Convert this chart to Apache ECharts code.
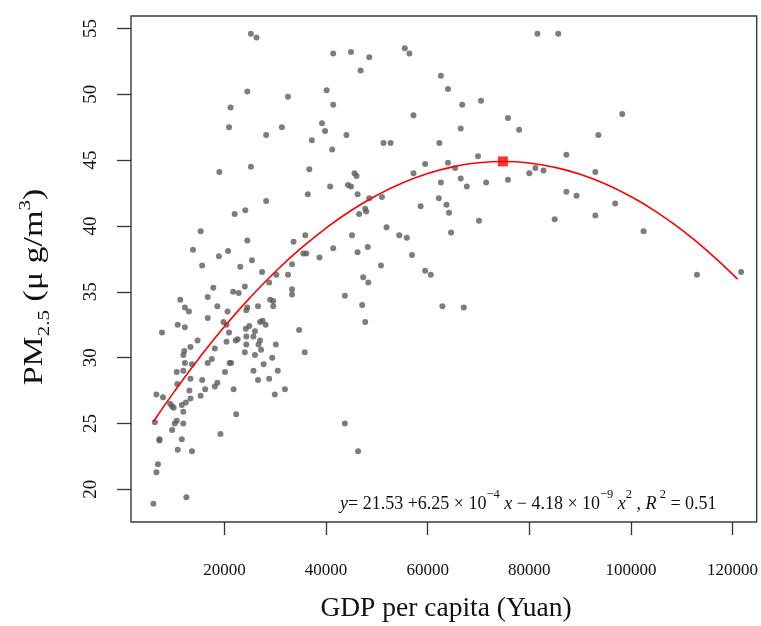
<!DOCTYPE html>
<html><head><meta charset="utf-8">
<script src="https://cdn.jsdelivr.net/npm/echarts@6/dist/echarts.min.js"></script>
<style>html,body{margin:0;padding:0;background:#fff}#c{width:761px;height:626px}</style>
</head><body><div id="c"></div>
<script>
const gdpPerCapita = [25200,26300,41400,24500,32500,40100,21200,41400,20900,28200,31300,39200,39800,37200,41200,19000,25200,36700,40800,36400,28200,22000,24100,15300,24500,13800,20700,18900,25400,33600,35900,41400,35500,36100,38700,15600,23100,27400,33300,30200,32500,28800,17800,21700,22800,24000,33300,33300,16700,11300,29000,29600,29600,12200,13000,18600,20600,24500,24300,26600,16700,10800,12200,19800,20400,7700,27000,27500,28100,24900,24200,34700,20900,24300,25700,26000,22600,22200,14700,13300,20400,27000,26700,24300,30100,18100,12100,11900,24000,27200,26000,29400,35800,17500,12200,16700,21000,21300,25700,27700,10600,11900,13600,20100,13300,15600,26600,28800,30500,10700,18100,18600,13100,16200,21800,31900,6600,7900,15300,29900,9300,9700,10000,11600,12400,13300,11900,22300,6300,10600,10200,11900,9700,19200,7200,7200,11600,10800,13600,6900,6600,12500,6000,44900,48500,46800,55500,56400,81600,62600,64000,57200,66800,70500,75800,78000,66500,44000,51300,52700,62300,69900,59500,64000,65400,57200,45600,46000,66500,80000,81200,75800,62600,67700,71500,44300,44900,46200,48500,51000,62200,63700,64200,58600,47700,47900,46500,70100,51900,64600,45100,54400,55900,48200,46200,56900,50800,47300,48300,59500,60600,43700,47100,47700,62900,67100,43700,46300,85700,98300,93600,87300,93000,82800,87300,89300,85000,93000,96900,102500,113000,121700];
const pm25 = [54.6,54.3,53.1,50.2,49.8,50.3,49.0,49.2,47.5,46.9,47.5,47.8,47.2,46.5,45.8,44.1,44.5,44.3,43.0,42.4,41.9,40.9,41.2,39.6,38.9,38.2,38.1,37.7,37.4,38.8,39.3,38.3,37.9,37.9,37.6,37.0,36.9,36.5,37.1,36.3,36.3,35.7,35.3,35.0,34.9,35.4,35.2,34.8,34.6,34.4,34.4,34.3,33.9,33.8,33.5,33.9,33.5,33.8,33.6,33.9,33.0,32.5,32.3,32.7,32.5,31.9,32.7,32.8,32.5,32.4,32.2,32.1,31.9,31.6,31.6,32.0,31.4,31.3,31.3,30.8,31.2,31.3,31.0,31.0,31.0,30.7,30.5,30.2,30.4,30.6,30.2,30.0,30.4,29.9,29.6,29.6,29.6,29.6,29.0,29.5,28.9,29.0,29.5,28.9,28.4,28.3,28.3,28.4,29.0,28.0,27.8,28.1,27.5,27.6,27.6,27.6,27.2,27.0,27.1,27.2,26.5,26.3,26.2,26.4,26.6,26.9,25.9,25.7,25.1,25.2,25.0,25.0,24.5,24.2,23.8,23.7,23.8,23.0,22.9,21.9,21.3,19.4,18.9,53.2,52.8,51.8,53.5,53.1,54.6,51.4,50.4,48.4,49.2,49.5,48.2,47.3,47.4,46.9,46.3,46.3,46.3,45.3,44.7,44.8,44.4,44.0,44.0,43.8,43.6,44.0,44.4,43.5,43.3,43.0,43.3,43.1,43.0,42.4,42.1,42.2,42.1,41.6,41.0,41.5,41.3,41.1,40.9,40.4,39.9,39.5,39.3,39.3,39.1,38.4,38.0,37.8,37.0,36.1,35.7,36.6,36.3,34.7,34.0,32.7,33.9,33.8,25.0,22.9,54.6,48.5,46.9,45.4,44.1,44.2,42.6,42.3,40.5,40.8,41.7,39.6,36.3,36.5];
const fitGdp = [6000,10000,15000,20000,25000,30000,35000,40000,45000,50000,55000,60000,65000,70000,75000,80000,85000,90000,95000,100000,105000,110000,115000,121000];
const fitPm = [25.13,27.36,29.96,32.36,34.54,36.52,38.28,39.84,41.19,42.33,43.26,43.98,44.49,44.80,44.89,44.78,44.45,43.92,43.18,42.23,41.07,39.70,38.12,35.96];
const peakGdp = [74800];
const peakPm = [44.9];
const xTicks = [20000,40000,60000,80000,100000,120000];
const yTicks = [20,25,30,35,40,45,50,55];

const serif = '"Liberation Serif", "Times New Roman", serif';
const chart = echarts.init(document.getElementById('c'), null, {renderer: 'canvas'});
const scatterData = gdpPerCapita.map((g, i) => [g, pm25[i]]);
const fitData = fitGdp.map((g, i) => [g, fitPm[i]]);
const peakData = peakGdp.map((g, i) => [g, peakPm[i]]);

const option = {
  animation: false,
  backgroundColor: '#fff',
  grid: {left: 131, right: 4, top: 16, bottom: 104, show: true, borderColor: '#3a3a3a', borderWidth: 1.4, backgroundColor: 'transparent'},
  xAxis: {
    type: 'value', min: 1600, max: 124760,
    axisLine: {show: false}, splitLine: {show: false},
    axisTick: {show: true, inside: false, length: 13, customValues: xTicks, lineStyle: {color: '#333', width: 1.3}},
    axisLabel: {customValues: xTicks, margin: 40, fontFamily: serif, fontSize: 17, color: '#111', formatter: v => String(v)}
  },
  yAxis: {
    type: 'value', min: 17.52, max: 55.94,
    axisLine: {show: false}, splitLine: {show: false},
    axisTick: {show: true, inside: false, length: 14, customValues: yTicks, lineStyle: {color: '#333', width: 1.3}},
    axisLabel: {customValues: yTicks, rotate: 90, margin: 30, fontFamily: serif, fontSize: 19, color: '#111', formatter: v => String(v)}
  },
  series: [
    {type: 'scatter', data: scatterData, symbol: 'circle', symbolSize: 6, itemStyle: {color: '#5c5c5c'}, silent: true, z: 2},
    {type: 'line', data: fitData, smooth: true, showSymbol: false, lineStyle: {color: '#ff0000', width: 1.6}, silent: true, z: 3},
    {type: 'scatter', data: peakData, symbol: 'rect', symbolSize: 10, itemStyle: {color: '#ff0000'}, silent: true, z: 4}
  ],
  graphic: [
    {type: 'text', x: 446, y: 609, style: {text: 'GDP per capita (Yuan)', font: '27.5px ' + serif, fill: '#111', textAlign: 'center', textVerticalAlign: 'middle'}},
    {type: 'text', x: 35, y: 287, rotation: Math.PI / 2, scaleY: 0.8, style: {
      text: '{n|PM}{s|2.5}{n| (μ g/m}{p|3}{n|)}', textAlign: 'center', textVerticalAlign: 'middle', fill: '#111',
      rich: {
        n: {fontFamily: serif, fontSize: 34, lineHeight: 44, fill: '#111'},
        s: {fontFamily: serif, fontSize: 21, lineHeight: 18, verticalAlign: 'bottom', fill: '#111'},
        p: {fontFamily: serif, fontSize: 21, lineHeight: 18, verticalAlign: 'top', fill: '#111'}
      }}},
    {type: 'text', x: 340, y: 504, style: {
      text: '{i|y}{n|= 21.53 +6.25 × 10}{p|−4}{i| x}{n| − 4.18 × 10}{p|−9}{i| x}{p|2}{n| , }{i|R}{p| 2}{n| = 0.51}',
      textAlign: 'left', textVerticalAlign: 'middle', fill: '#111',
      rich: {
        n: {fontFamily: serif, fontSize: 18, lineHeight: 32, fill: '#111'},
        i: {fontFamily: serif, fontSize: 18, lineHeight: 32, fontStyle: 'italic', fill: '#111'},
        p: {fontFamily: serif, fontSize: 12.5, lineHeight: 13, verticalAlign: 'top', fill: '#111'}
      }}}
  ]
};
chart.setOption(option);
</script>
</body></html>
